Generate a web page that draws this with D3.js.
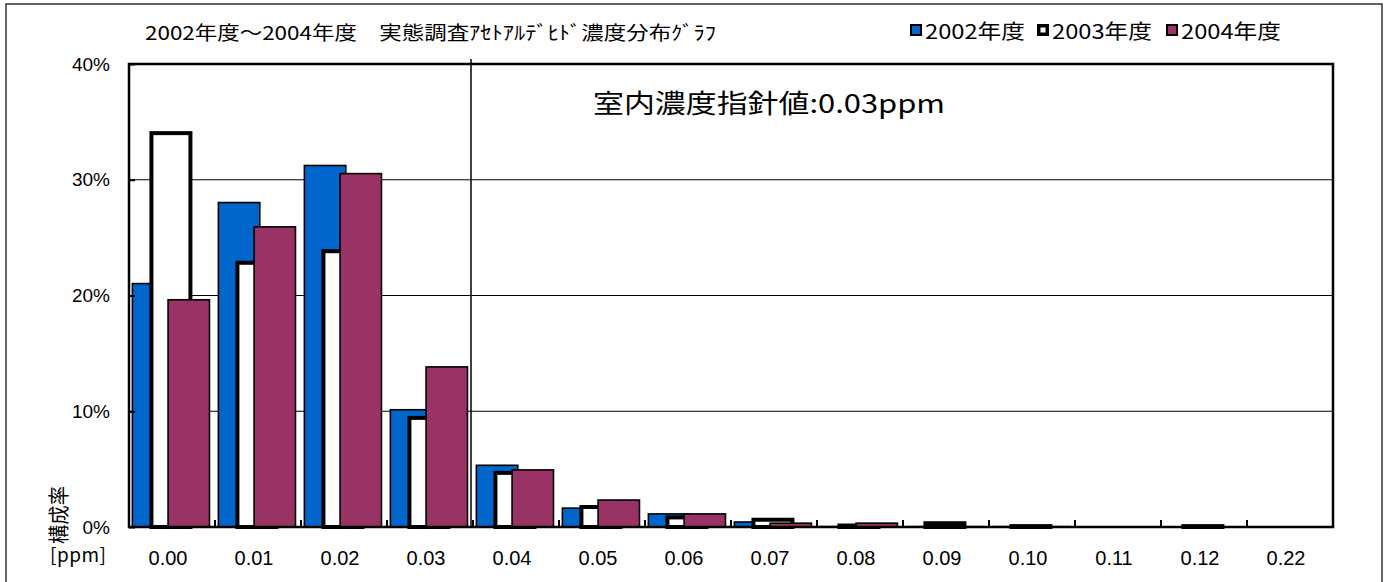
<!DOCTYPE html>
<html><head><meta charset="utf-8">
<script src="https://cdn.jsdelivr.net/npm/d3@7"></script>
<style>
html,body{margin:0;padding:0;background:#fff;}
text{font-family:"Liberation Sans",Arial,sans-serif;}
.jp{font-family:"Noto Sans CJK JP","Liberation Sans",sans-serif;}
</style></head>
<body>
<svg id="chart" width="1388" height="582"></svg>
<script>
const categories = ["0.00","0.01","0.02","0.03","0.04","0.05","0.06","0.07","0.08","0.09","0.10","0.11","0.12","0.22"];
const seriesNames = ["2002年度","2003年度","2004年度"];
const values2002 = [21.1,28.1,31.3,10.2,5.4,1.7,1.2,0.5,0.1,0.1,0.1,0.05,0.05,0.05];
const values2003 = [34.2,23.0,24.0,9.6,4.85,1.9,1.0,0.8,0.3,0.5,0.25,0.15,0.25,0.1];
const values2004 = [19.7,26.0,30.6,13.9,5.0,2.4,1.2,0.4,0.4,0.1,0.1,0.05,0.05,0.0];
const yTicks = [0,10,20,30,40];
const titleText = "2002年度～2004年度　実態調査ｱｾﾄｱﾙﾃﾞﾋﾄﾞ濃度分布ｸﾞﾗﾌ";
const noteText = "室内濃度指針値:0.03ppm";

const seriesData = [values2002, values2003, values2004];
const fills = ["#0066CC","#FFFFFF","#993366"];
const strokeW = [1.6,4,1.6];

const svg = d3.select("#chart");
const L=129, R=1333, T=64, B=527;

// outer border
svg.append("rect").attr("x",6).attr("y",4).attr("width",1376).attr("height",590)
  .attr("fill","none").attr("stroke","#000").attr("stroke-width",1.2);

const x = d3.scaleBand().domain(categories).range([L,R]).padding(0);
const bw = x.bandwidth();
const off = d3.scalePoint().domain(seriesNames).range([0.03*bw, 0.445*bw]);
const barW = 0.5*bw;
const y = d3.scaleLinear().domain([0,40]).range([B,T]);

// gridlines
svg.append("g").selectAll("line").data(yTicks.filter(t=>t>0&&t<40)).join("line")
  .attr("x1",L).attr("x2",R).attr("y1",d=>y(d)).attr("y2",d=>y(d))
  .attr("stroke","#000").attr("stroke-width",1);

// bars
seriesNames.forEach((s,i)=>{
  svg.append("g").selectAll("rect").data(categories).join("rect")
    .attr("x",c=>x(c)+off(s)+strokeW[i]/2)
    .attr("y",(c,j)=>y(seriesData[i][j])+strokeW[i]/2)
    .attr("width",barW-strokeW[i])
    .attr("height",(c,j)=>Math.max(0,y(0)-y(seriesData[i][j])-strokeW[i]/2))
    .attr("fill",fills[i]).attr("stroke","#000").attr("stroke-width",strokeW[i]);
});

// plot border
svg.append("rect").attr("x",L).attr("y",T).attr("width",R-L).attr("height",B-T)
  .attr("fill","none").attr("stroke","#000").attr("stroke-width",2.5);

// y axis
const yAxis = d3.axisLeft(y).tickValues(yTicks).tickFormat(d=>d+"%").tickSize(-6).tickPadding(19);
const gy = svg.append("g").attr("transform",`translate(${L},0)`).call(yAxis);
gy.select(".domain").remove();
gy.selectAll("line").attr("stroke","#000").attr("stroke-width",2);
gy.selectAll("text").attr("font-size",19).attr("fill","#000").attr("font-family","Liberation Sans, Arial, sans-serif");

// x axis
const xAxis = d3.axisBottom(x).tickSize(0).tickPadding(24);
const gx = svg.append("g").attr("transform",`translate(-4,${B})`).call(xAxis);
gx.select(".domain").remove();
gx.selectAll("text").attr("font-size",20).attr("fill","#000").attr("font-family","Liberation Sans, Arial, sans-serif");
// category boundary ticks
svg.append("g").selectAll("line").data(categories.slice(1)).join("line")
  .attr("x1",c=>x(c)).attr("x2",c=>x(c)).attr("y1",B-7).attr("y2",B)
  .attr("stroke","#000").attr("stroke-width",2);

// guideline
const xg = x(categories[4]) - 2;
svg.append("line").attr("x1",xg).attr("x2",xg).attr("y1",T-5).attr("y2",B)
  .attr("stroke","#000").attr("stroke-width",1.5);

// title
svg.append("text").attr("class","jp").attr("x",145).attr("y",40).attr("font-size",19)
  .attr("textLength",571).attr("lengthAdjust","spacingAndGlyphs").text(titleText);

// note
svg.append("text").attr("class","jp").attr("x",593).attr("y",113).attr("font-size",26)
  .attr("textLength",352).attr("lengthAdjust","spacingAndGlyphs").text(noteText);

// legend
const legX=[910,1037,1166];
seriesNames.forEach((s,i)=>{
  const sw = i===1?3.5:2;
  svg.append("rect").attr("x",legX[i]+sw/2).attr("y",24+sw/2).attr("width",12-sw).attr("height",12-sw)
    .attr("fill",fills[i]).attr("stroke","#000").attr("stroke-width",sw);
  svg.append("text").attr("class","jp").attr("x",legX[i]+15).attr("y",39).attr("font-size",20)
    .attr("textLength",100).attr("lengthAdjust","spacingAndGlyphs").text(s);
});

// y-axis label
svg.append("text").attr("class","jp").attr("transform","translate(66,544) rotate(-90)")
  .attr("font-size",21).attr("textLength",58).attr("lengthAdjust","spacingAndGlyphs").text("構成率");
svg.append("text").attr("class","jp").attr("x",50).attr("y",562)
  .attr("font-size",19).attr("textLength",56).attr("lengthAdjust","spacing").text("[ppm]");
</script>
</body></html>
